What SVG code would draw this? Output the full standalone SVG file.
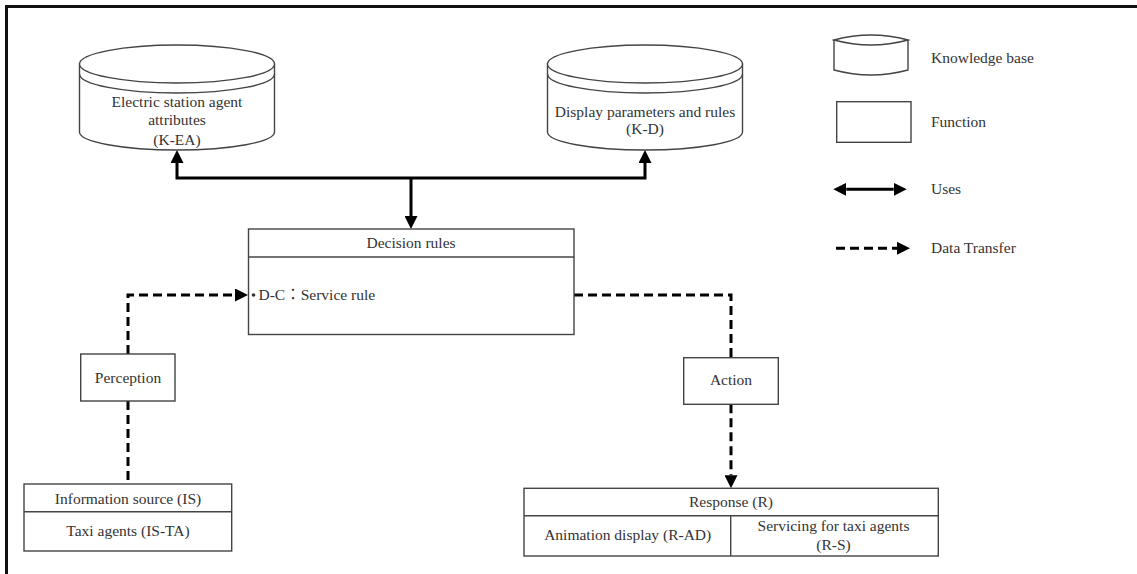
<svg xmlns="http://www.w3.org/2000/svg" width="1137" height="574" viewBox="0 0 1137 574">
<style>
  .txt { font-family: "Liberation Serif", "Times New Roman", "Noto Sans CJK TC", serif; font-size: 15.5px; fill: #333; }
  .mid { text-anchor: middle; }
  .box { fill: #fff; stroke: #444; stroke-width: 1.4; }
  .ln { fill: none; stroke: #444; stroke-width: 1.4; }
  .uses { fill: none; stroke: #000; stroke-width: 3; }
  .data { fill: none; stroke: #000; stroke-width: 3; stroke-dasharray: 9 5; }
</style>
<defs>
  <marker id="head" markerUnits="userSpaceOnUse" markerWidth="14" markerHeight="13" refX="0" refY="6.5" orient="auto-start-reverse">
    <path d="M0,0 L13,6.5 L0,13 Z" fill="#000"/>
  </marker>
</defs>
<rect x="0" y="0" width="1137" height="574" fill="#fff"/>
<path d="M6.5,574 V6.5 H1137" fill="none" stroke="#111" stroke-width="3"/>

<g id="connectors">
  <path class="uses" d="M177,163 V178 H645 V163" marker-start="url(#head)" marker-end="url(#head)"/>
  <path class="uses" d="M411,178 V216" marker-end="url(#head)"/>
  <path class="data" d="M128,354 V295 H235" marker-end="url(#head)"/>
  <path class="data" d="M128,401 V484"/>
  <path class="data" d="M574,295 H731 V357.7"/>
  <path class="data" d="M731,404.3 V475.3" marker-end="url(#head)"/>
</g>

<g id="k-ea">
  <path class="box" d="M79.5,64 V132 A97.5,18 0 0 0 274.5,132 V64 Z"/>
  <ellipse class="box" cx="177" cy="64" rx="97.5" ry="19"/>
  <path class="ln" d="M79.5,74 A97.5,19 0 0 0 274.5,74"/>
  <text class="txt mid" x="177" y="107">Electric station agent</text>
  <text class="txt mid" x="177" y="125">attributes</text>
  <text class="txt mid" x="177" y="145">(K-EA)</text>
</g>

<g id="k-d">
  <path class="box" d="M547.5,64 V132 A97.5,18 0 0 0 742.5,132 V64 Z"/>
  <ellipse class="box" cx="645" cy="64" rx="97.5" ry="19"/>
  <path class="ln" d="M547.5,74 A97.5,19 0 0 0 742.5,74"/>
  <text class="txt mid" x="645" y="117">Display parameters and rules</text>
  <text class="txt mid" x="645" y="134">(K-D)</text>
</g>

<g id="decision">
  <rect class="box" x="248.5" y="229" width="325.5" height="105.5"/>
  <line class="ln" x1="248.5" y1="257" x2="574" y2="257"/>
  <text class="txt mid" x="411" y="248">Decision rules</text>
  <circle cx="253.5" cy="295" r="1.8" fill="#333"/>
  <text class="txt" x="258.5" y="300">D-C：Service rule</text>
</g>

<g id="perception">
  <rect class="box" x="80.7" y="354" width="94.3" height="47"/>
  <text class="txt mid" x="128" y="383">Perception</text>
</g>

<g id="info-source">
  <rect class="box" x="24" y="484" width="207.7" height="67"/>
  <line class="ln" x1="24" y1="511.7" x2="231.7" y2="511.7"/>
  <text class="txt mid" x="128" y="504">Information source (IS)</text>
  <text class="txt mid" x="128" y="536">Taxi agents (IS-TA)</text>
</g>

<g id="action">
  <rect class="box" x="683.7" y="357.7" width="94.6" height="46.6"/>
  <text class="txt mid" x="731" y="385">Action</text>
</g>

<g id="response">
  <rect class="box" x="524" y="488.3" width="414.3" height="67.7"/>
  <line class="ln" x1="524" y1="515.7" x2="938.3" y2="515.7"/>
  <line class="ln" x1="730.7" y1="515.7" x2="730.7" y2="556"/>
  <text class="txt mid" x="731" y="507">Response (R)</text>
  <text class="txt mid" x="627.7" y="540">Animation display (R-AD)</text>
  <text class="txt mid" x="833.5" y="531">Servicing for taxi agents</text>
  <text class="txt mid" x="833.5" y="550">(R-S)</text>
</g>

<g id="legend">
  <path class="ln" d="M834,40 Q871,30 908,40 Q871,50 834,40 Z"/>
  <path class="ln" d="M834,40 V70 Q871,80 908,70 V40"/>
  <text class="txt" x="931" y="63">Knowledge base</text>
  <rect class="box" x="836.7" y="101.7" width="74.3" height="40.6"/>
  <text class="txt" x="931" y="127">Function</text>
  <path class="uses" d="M846.3,189.3 H893.7" marker-start="url(#head)" marker-end="url(#head)"/>
  <text class="txt" x="931" y="194">Uses</text>
  <path class="data" d="M836,248.3 H897" marker-end="url(#head)"/>
  <text class="txt" x="931" y="253">Data Transfer</text>
</g>
</svg>
